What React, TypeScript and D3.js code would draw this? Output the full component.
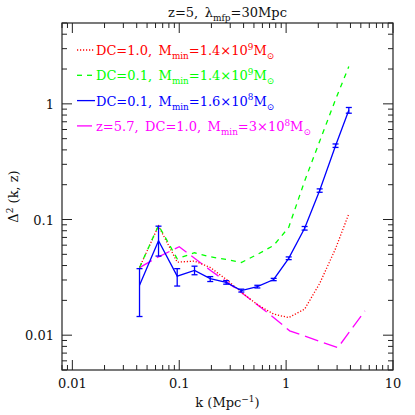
import React from 'react'
import * as d3 from 'd3'

const W = 415
const H = 415
const M = { top: 23, right: 22, bottom: 45, left: 62 }

// k bins shared by the z=5 runs
const kBins = [0.0425, 0.064, 0.0957, 0.139, 0.195, 0.275, 0.381, 0.538, 0.765, 1.057, 1.49, 2.06, 2.9, 3.86]
const redDC1 = [0.0385, 0.088, 0.0428, 0.0437, 0.0385, 0.0304, 0.0235, 0.0184, 0.0152, 0.0142, 0.0168, 0.028, 0.056, 0.112]
const greenDC01 = [0.0385, 0.089, 0.0458, 0.0516, 0.0476, 0.0452, 0.0425, 0.0499, 0.0597, 0.0855, 0.215, 0.475, 1.09, 2.1]
const blueDC01 = [0.027, 0.0655, 0.0324, 0.0363, 0.0308, 0.0286, 0.0243, 0.0263, 0.0303, 0.0462, 0.084, 0.178, 0.435, 0.88]
const blueLo = [0.0145, 0.0483, 0.0266, 0.0333, 0.0291, 0.0276, 0.0236, 0.0256, 0.0296, 0.045, 0.081, 0.172, 0.42, 0.83]
const blueHi = [0.0376, 0.0876, 0.0376, 0.0395, 0.0321, 0.0296, 0.025, 0.027, 0.031, 0.0475, 0.087, 0.184, 0.45, 0.93]

// z=5.7 run
const kMag = [0.0425, 0.064, 0.1, 0.1965, 0.384, 0.701, 1.08, 3.05, 5.45]
const magZ57 = [0.0384, 0.0476, 0.0582, 0.0363, 0.0233, 0.0152, 0.0109, 0.0078, 0.0162]

const xTickLabels = ['0.01', '0.1', '1', '10']
const yTickLabels = ['0.01', '0.1', '1']

const FONT = 'DejaVu Serif'
const INK = '#111'

type Seg = { t: string; s?: 'sub' | 'sup' }
const legend: { color: string; dash: string; parts: Seg[] }[] = [
  { color: '#ff0000', dash: '1.2,1.8', parts: [{ t: 'DC=1.0,\u2002M' }, { t: 'min', s: 'sub' }, { t: '=1.4×10' }, { t: '9', s: 'sup' }, { t: 'M' }, { t: '⊙', s: 'sub' }] },
  { color: '#00ff00', dash: '5,5', parts: [{ t: 'DC=0.1,\u2002M' }, { t: 'min', s: 'sub' }, { t: '=1.4×10' }, { t: '9', s: 'sup' }, { t: 'M' }, { t: '⊙', s: 'sub' }] },
  { color: '#0000ff', dash: '', parts: [{ t: 'DC=0.1,\u2002M' }, { t: 'min', s: 'sub' }, { t: '=1.6×10' }, { t: '8', s: 'sup' }, { t: 'M' }, { t: '⊙', s: 'sub' }] },
  { color: '#ff00ff', dash: '14,6', parts: [{ t: 'z=5.7,\u2002DC=1.0,\u2002M' }, { t: 'min', s: 'sub' }, { t: '=3×10' }, { t: '8', s: 'sup' }, { t: 'M' }, { t: '⊙', s: 'sub' }] },
]

function Rich({ parts, size }: { parts: Seg[]; size: number }) {
  let shift = 0
  return (
    <>
      {parts.map((p, i) => {
        const target = p.s === 'sub' ? size * 0.3 : p.s === 'sup' ? -size * 0.4 : 0
        const dy = target - shift
        shift = target
        return (
          <tspan key={i} dy={dy} fontSize={p.s ? size * 0.68 : size}>
            {p.t}
          </tspan>
        )
      })}
    </>
  )
}

export default function App() {
  const iw = W - M.left - M.right
  const ih = H - M.top - M.bottom
  const x = d3.scaleLog().domain([0.008, 10]).range([M.left, M.left + iw])
  const y = d3.scaleLog().domain([0.005, 5]).range([M.top + ih, M.top])

  const line = d3.line<[number, number]>().x(d => x(d[0])).y(d => y(d[1]))
  const pts = (ks: number[], vs: number[]) => ks.map((k, i) => [k, vs[i]] as [number, number])

  const xMajors = [0.01, 0.1, 1, 10]
  const xMinors: number[] = []
  for (const dec of [0.001, 0.01, 0.1, 1]) for (let m = 2; m <= 9; m++) {
    const v = dec * m
    if (v >= 0.008 && v <= 10) xMinors.push(v)
  }
  const yMajors = [0.01, 0.1, 1]
  const yMinors: number[] = []
  for (const dec of [0.001, 0.01, 0.1, 1]) for (let m = 2; m <= 9; m++) {
    const v = dec * m
    if (v >= 0.005 && v <= 5) yMinors.push(v)
  }

  const L = M.left, R = M.left + iw, T = M.top, B = M.top + ih

  return (
    <svg width={W} height={H} style={{ position: 'absolute', left: 0, top: 0, background: '#fff' }} fontFamily={FONT}>
      <defs>
        <clipPath id="plot">
          <rect x={L} y={T} width={iw} height={ih} />
        </clipPath>
      </defs>

      {/* frame + ticks */}
      <rect x={L} y={T} width={iw} height={ih} fill="none" stroke="#222" strokeWidth={1.2} />
      <g stroke="#222" strokeWidth={1}>
        {xMajors.map(v => (
          <g key={'xm' + v}>
            <line x1={x(v)} x2={x(v)} y1={B} y2={B - 10} />
            <line x1={x(v)} x2={x(v)} y1={T} y2={T + 10} />
          </g>
        ))}
        {xMinors.map(v => (
          <g key={'xn' + v}>
            <line x1={x(v)} x2={x(v)} y1={B} y2={B - 5} />
            <line x1={x(v)} x2={x(v)} y1={T} y2={T + 5} />
          </g>
        ))}
        {yMajors.map(v => (
          <g key={'ym' + v}>
            <line x1={L} x2={L + 10} y1={y(v)} y2={y(v)} />
            <line x1={R} x2={R - 10} y1={y(v)} y2={y(v)} />
          </g>
        ))}
        {yMinors.map(v => (
          <g key={'yn' + v}>
            <line x1={L} x2={L + 5} y1={y(v)} y2={y(v)} />
            <line x1={R} x2={R - 5} y1={y(v)} y2={y(v)} />
          </g>
        ))}
      </g>

      {/* tick labels */}
      <g fill={INK} fontSize={13}>
        {xMajors.map((v, i) => (
          <text key={'xl' + v} x={x(v)} y={B + 18} textAnchor="middle">{xTickLabels[i]}</text>
        ))}
        {yMajors.map((v, i) => (
          <text key={'yl' + v} x={L - 8} y={y(v) + 5} textAnchor="end">{yTickLabels[i]}</text>
        ))}
      </g>

      {/* axis titles */}
      <text x={(L + R) / 2} y={B + 37} textAnchor="middle" fill={INK} fontSize={13}>
        k (Mpc<tspan dy={-5} fontSize={9}>−1</tspan><tspan dy={5}>)</tspan>
      </text>
      <text transform={`translate(18,${(T + B) / 2}) rotate(-90)`} textAnchor="middle" fill={INK} fontSize={13}>
        Δ<tspan dy={-5} fontSize={9}>2</tspan><tspan dy={5}> (k, z)</tspan>
      </text>
      <text x={(L + R) / 2} y={17} textAnchor="middle" fill={INK} fontSize={13}>
        z=5,{'\u2002'}λ<tspan dy={4} fontSize={9}>mfp</tspan><tspan dy={-4}>=30Mpc</tspan>
      </text>

      {/* curves */}
      <g clipPath="url(#plot)" fill="none">
        <path d={line(pts(kMag, magZ57)) ?? ''} stroke="#ff00ff" strokeWidth={1.3} strokeDasharray="14,6" />
        <path d={line(pts(kBins, redDC1)) ?? ''} stroke="#ff0000" strokeWidth={1.3} strokeDasharray="1.2,1.8" />
        <path d={line(pts(kBins, greenDC01)) ?? ''} stroke="#00ff00" strokeWidth={1.3} strokeDasharray="5,5" />
        <path d={line(pts(kBins, blueDC01)) ?? ''} stroke="#0000ff" strokeWidth={1.3} />
        <g stroke="#0000ff" strokeWidth={1.3}>
          {kBins.map((k, i) => (
            <g key={'eb' + i}>
              <line x1={x(k)} x2={x(k)} y1={y(blueLo[i])} y2={y(blueHi[i])} />
              <line x1={x(k) - 3} x2={x(k) + 3} y1={y(blueLo[i])} y2={y(blueLo[i])} />
              <line x1={x(k) - 3} x2={x(k) + 3} y1={y(blueHi[i])} y2={y(blueHi[i])} />
            </g>
          ))}
        </g>
      </g>

      {/* legend */}
      {legend.map((e, i) => {
        const ly = 50 + i * 25.3
        return (
          <g key={'lg' + i}>
            {i === 1 ? (
              <>
                <line x1={77} x2={82} y1={ly} y2={ly} stroke={e.color} strokeWidth={1.3} />
                <line x1={87} x2={92} y1={ly} y2={ly} stroke={e.color} strokeWidth={1.3} />
              </>
            ) : (
              <line x1={77} x2={i === 3 ? 92 : 95} y1={ly} y2={ly} stroke={e.color} strokeWidth={1.3}
                strokeDasharray={i === 0 ? e.dash : ''} />
            )}
            <text x={96} y={ly + 5} fill={e.color}>
              <Rich parts={e.parts} size={13} />
            </text>
          </g>
        )
      })}
    </svg>
  )
}
